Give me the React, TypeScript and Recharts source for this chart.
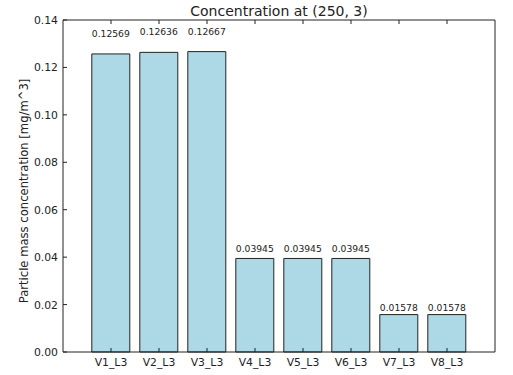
import { Bar, BarChart, LabelList, XAxis, YAxis } from 'recharts'

const categories = ['V1_L3', 'V2_L3', 'V3_L3', 'V4_L3', 'V5_L3', 'V6_L3', 'V7_L3', 'V8_L3']
const concentrations = [0.12569, 0.12636, 0.12667, 0.03945, 0.03945, 0.03945, 0.01578, 0.01578]
const yTicks = [0, 0.02, 0.04, 0.06, 0.08, 0.1, 0.12, 0.14]

const chartData = categories.map((name, i) => ({ name, value: concentrations[i] }))

const FONT = '"DejaVu Sans", sans-serif'
const INK = '#222'

// matplotlib-style ticks: pointing into the axes, labels outside
function BottomTick({ x, y, payload }: any) {
  return (
    <g>
      <line x1={x} y1={y} x2={x} y2={y - 4} stroke={INK} />
      <text x={x} y={y + 14} textAnchor="middle" fontSize={10.8} fontFamily={FONT} fill={INK}>
        {payload.value}
      </text>
    </g>
  )
}

function TopTick({ x, y }: any) {
  return <line x1={x} y1={y} x2={x} y2={y + 4} stroke={INK} />
}

function LeftTick({ x, y, payload }: any) {
  return (
    <g>
      <line x1={x} y1={y} x2={x + 4} y2={y} stroke={INK} />
      <text x={x - 5} y={y + 4} textAnchor="end" fontSize={10.8} fontFamily={FONT} fill={INK}>
        {Number(payload.value).toFixed(2)}
      </text>
    </g>
  )
}

function RightTick({ x, y }: any) {
  return <line x1={x} y1={y} x2={x - 4} y2={y} stroke={INK} />
}

// value text sits at 1.05 * bar height, like the original script did
function ValueLabel({ x, y, width, height, value }: any) {
  const bottom = y - 0.05 * height
  return (
    <text
      x={x + width / 2}
      y={bottom - 2}
      textAnchor="middle"
      fontSize={9.2}
      fontFamily={FONT}
      fill={INK}
    >
      {Number(value).toFixed(5)}
    </text>
  )
}

export default function App() {
  return (
    <div style={{ position: 'absolute', left: 0, top: 0, width: 513, height: 375, background: '#fff' }}>
      <div
        style={{
          position: 'absolute',
          left: 279,
          top: 11,
          transform: 'translate(-50%, -50%)',
          fontFamily: FONT,
          fontSize: 14,
          color: INK,
          whiteSpace: 'nowrap',
        }}
      >
        Concentration at (250, 3)
      </div>
      <div
        style={{
          position: 'absolute',
          left: 24,
          top: 191,
          transform: 'translate(-50%, -50%) rotate(-90deg)',
          fontFamily: FONT,
          fontSize: 11.6,
          color: INK,
          whiteSpace: 'nowrap',
        }}
      >
        Particle mass concentration [mg/m^3]
      </div>
      <BarChart
        width={513}
        height={375}
        data={chartData}
        margin={{ top: 19, right: 17, bottom: 3, left: 0 }}
        barCategoryGap="10%"
        style={{ position: 'absolute', left: 0, top: 0 }}
      >
        <XAxis
          dataKey="name"
          height={20}
          padding={{ left: 24, right: 24 }}
          tickLine={false}
          tickSize={0}
          tickMargin={0}
          axisLine={{ stroke: INK }}
          tick={<BottomTick />}
          interval={0}
        />
        <XAxis
          xAxisId="top"
          orientation="top"
          dataKey="name"
          height={1}
          padding={{ left: 24, right: 24 }}
          tickLine={false}
          tickSize={0}
          tickMargin={0}
          axisLine={{ stroke: INK }}
          tick={<TopTick />}
          interval={0}
        />
        <YAxis
          width={63}
          domain={[0, 0.14]}
          ticks={yTicks}
          tickLine={false}
          tickSize={0}
          tickMargin={0}
          axisLine={{ stroke: INK }}
          tick={<LeftTick />}
          interval={0}
        />
        <YAxis
          yAxisId="right"
          orientation="right"
          width={1}
          domain={[0, 0.14]}
          ticks={yTicks}
          tickLine={false}
          tickSize={0}
          tickMargin={0}
          axisLine={{ stroke: INK }}
          tick={<RightTick />}
          interval={0}
        />
        <Bar dataKey="value" fill="#add8e6" stroke={INK} strokeWidth={1} isAnimationActive={false}>
          <LabelList dataKey="value" content={<ValueLabel />} />
        </Bar>
      </BarChart>
    </div>
  )
}
